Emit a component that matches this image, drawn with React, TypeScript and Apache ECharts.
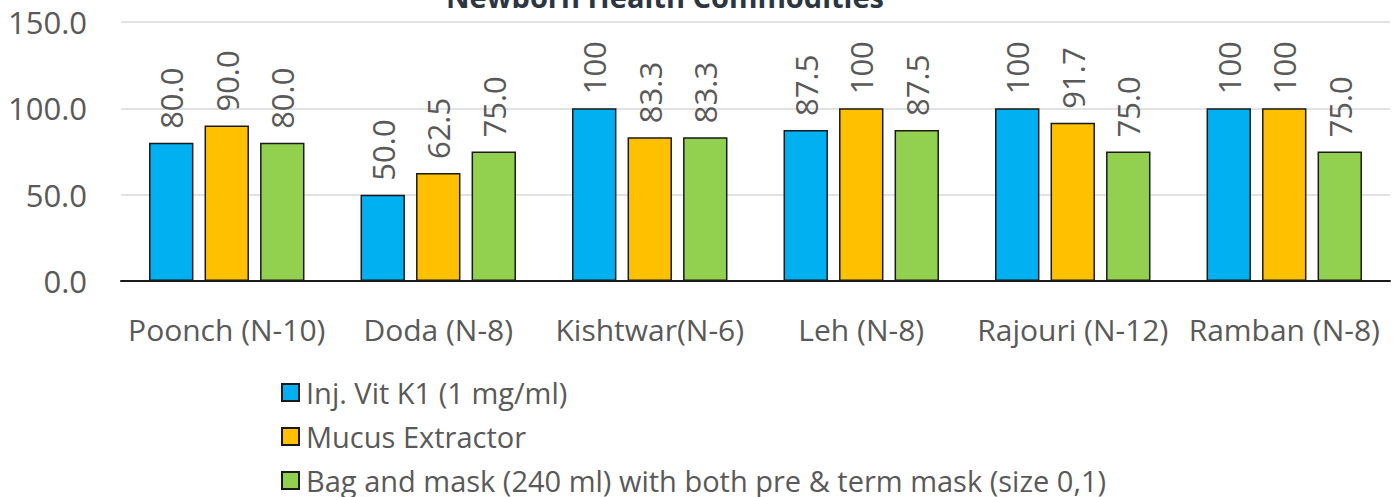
import React, { useEffect, useRef } from "react";
import * as echarts from "echarts";

const categories = ["Poonch (N-10)", "Doda (N-8)", "Kishtwar(N-6)", "Leh (N-8)", "Rajouri (N-12)", "Ramban (N-8)"];
const seriesNames = [
  "Inj. Vit K1 (1 mg/ml)",
  "Mucus Extractor",
  "Bag and mask (240 ml) with both pre & term mask (size 0,1)",
];
const vitK1 = [80.0, 50.0, 100, 87.5, 100, 100];
const mucus = [90.0, 62.5, 83.3, 100, 91.7, 100];
const bagMask = [80.0, 75.0, 83.3, 87.5, 75.0, 75.0];
const yTicks = { min: 0, max: 150, interval: 50 };
const colors = ["#00B0F0", "#FFC000", "#92D050"];
const titleText = "Newborn Health Commodities";

const FONT = "'Open Sans', sans-serif";
const TXT = "#595959";

export default function App() {
  const ref = useRef<HTMLDivElement>(null);
  useEffect(() => {
    document.body.style.margin = "0";
    document.body.style.overflow = "hidden";
    const chart = echarts.init(ref.current!, null, { renderer: "svg" });
    const data = [vitK1, mucus, bagMask];
    chart.setOption({
      animation: false,
      textStyle: { fontFamily: FONT },
      graphic: [
        {
          type: "text",
          x: 665,
          y: 11,
          style: {
            text: titleText,
            fontFamily: FONT,
            fontWeight: "bold",
            fontSize: 29,
            fill: "#2b3642",
            align: "center",
            verticalAlign: "bottom",
          },
        },
      ],
      legend: {
        orient: "vertical",
        left: 276,
        top: 373,
        height: 300,
        itemGap: 15,
        itemWidth: 17,
        itemHeight: 17,
        icon: "rect",
        textStyle: { fontFamily: FONT, fontSize: 29, color: TXT, padding: [0, 0, 0, 2] },
        data: seriesNames,
      },
      grid: { left: 121, right: 7, top: 22, bottom: 216, containLabel: false },
      xAxis: {
        type: "category",
        data: categories,
        axisLine: { lineStyle: { color: "#1a1a1a", width: 2 } },
        axisTick: { show: false },
        axisLabel: { fontFamily: FONT, fontSize: 30, color: TXT, margin: 33, interval: 0 },
      },
      yAxis: {
        type: "value",
        min: yTicks.min,
        max: yTicks.max,
        interval: yTicks.interval,
        axisLine: { show: false },
        axisTick: { show: false },
        splitLine: { lineStyle: { color: "#d9d9d9", width: 1.5 } },
        axisLabel: {
          fontFamily: FONT,
          fontSize: 31,
          color: TXT,
          margin: 34,
          formatter: (v: number) => v.toFixed(1),
        },
      },
      series: seriesNames.map((name, i) => ({
        name,
        type: "bar",
        data: data[i],
        barWidth: "21%",
        barGap: "25%",
        itemStyle: { color: colors[i], borderColor: "#1a1a1a", borderWidth: 1.5 },
        label: {
          show: true,
          position: "top",
          rotate: 90,
          align: "left",
          verticalAlign: "middle",
          distance: 14,
          fontFamily: FONT,
          fontSize: 31,
          color: TXT,
          formatter: (p: any) => (p.value === 100 ? "100" : Number(p.value).toFixed(1)),
        },
      })),
    });
    return () => chart.dispose();
  }, []);
  return <div ref={ref} style={{ position: "absolute", left: 0, top: 0, width: 1397, height: 497 }} />;
}
